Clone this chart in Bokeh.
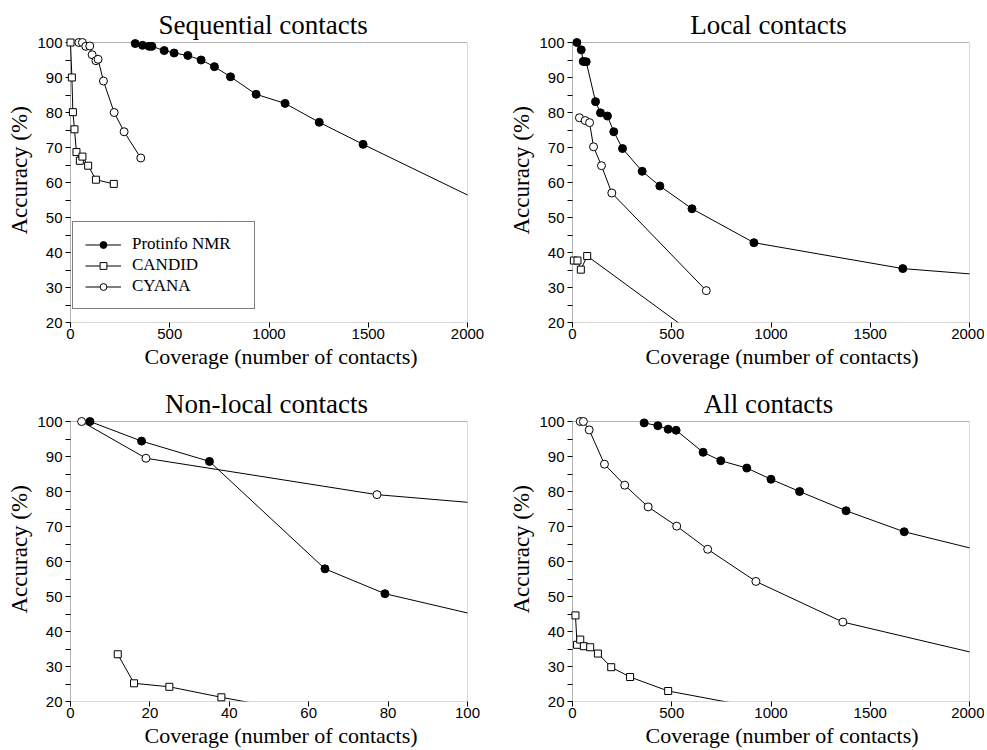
import numpy as np
from bokeh.plotting import figure
from bokeh.models import Range1d, FixedTicker, BoxAnnotation, Legend, LegendItem, Title
from bokeh.layouts import column, row
from bokeh.embed import file_html
from bokeh.resources import INLINE

# ---------------- data ----------------
# Sequential contacts
seq_prot_x = [326, 363, 396, 410, 472, 522, 591, 658, 725, 806, 935, 1081, 1253, 1474, 2150]
seq_prot_y = [99.7, 99.2, 98.9, 98.9, 97.7, 97.0, 96.3, 95.0, 93.1, 90.2, 85.2, 82.6, 77.2, 70.9, 52.3]
seq_cand_x = [0, 7, 12, 20, 30, 47, 60, 89, 128, 218]
seq_cand_y = [100, 90, 80.1, 75.2, 68.7, 66.2, 67.4, 64.8, 60.8, 59.6]
seq_cyan_x = [42, 60, 77, 97, 109, 128, 139, 166, 220, 270, 354]
seq_cyan_y = [100, 100, 98.9, 99.0, 96.5, 94.8, 95.2, 89.0, 80.0, 74.5, 67.0]

# Local contacts
loc_prot_x = [22, 44, 54, 69, 116, 141, 176, 208, 252, 351, 440, 602, 914, 1664, 2200]
loc_prot_y = [100, 97.9, 94.6, 94.5, 83.1, 79.9, 79.0, 74.5, 69.7, 63.2, 59.0, 52.5, 42.8, 35.4, 33.0]
loc_cand_x = [7, 25, 42, 74, 700]
loc_cand_y = [37.7, 37.7, 35.1, 39.0, 13.0]
loc_cyan_x = [35, 64, 86, 106, 146, 198, 674]
loc_cyan_y = [78.5, 77.7, 77.1, 70.2, 64.8, 57.0, 29.1]

# Non-local contacts
nl_prot_x = [4.9, 17.9, 35.0, 64.1, 79.2, 120]
nl_prot_y = [100, 94.4, 88.6, 57.9, 50.8, 40.0]
nl_cand_x = [11.9, 16.0, 24.9, 38.0, 60]
nl_cand_y = [33.5, 25.2, 24.2, 21.2, 16.6]
nl_cyan_x = [2.8, 19.0, 77.2, 120]
nl_cyan_y = [100, 89.5, 79.1, 75.0]

# All contacts
all_prot_x = [361, 430, 482, 522, 658, 747, 878, 1000, 1144, 1378, 1671, 2200]
all_prot_y = [99.6, 98.8, 97.8, 97.5, 91.2, 88.8, 86.7, 83.5, 80.0, 74.5, 68.5, 61.1]
all_cand_x = [15, 23, 39, 57, 89, 128, 195, 290, 482, 1000]
all_cand_y = [44.6, 36.2, 37.7, 35.8, 35.5, 33.7, 29.8, 27.0, 23.0, 17.5]
all_cyan_x = [39, 55, 84, 161, 263, 381, 525, 681, 924, 1362, 2200]
all_cyan_y = [100, 100, 97.6, 87.8, 81.8, 75.6, 70.1, 63.5, 54.3, 42.7, 31.5]

y_ticks = [20, 30, 40, 50, 60, 70, 80, 90, 100]
y_minor = [25, 35, 45, 55, 65, 75, 85, 95]
cov_ticks = [0, 500, 1000, 1500, 2000]
nl_ticks = [0, 20, 40, 60, 80, 100]
series_names = ["Protinfo NMR", "CANDID", "CYANA"]
x_label = "Coverage (number of contacts)"
y_label = "Accuracy (%)"

# ---------------- styling ----------------
SERIF = "Liberation Serif"
SANS = "Liberation Sans"
BOX_W, BOX_H = 397, 280
PAD_L, PAD_T = 5, 3
FRAME_W, FRAME_H = BOX_W + PAD_L, BOX_H + PAD_T


def make_panel(title, xmax, xticks, data, b_left, b_right, b_top, b_bottom,
               title_align="center", title_offset=0, xlab_offset=79, legend=False):
    xpad = PAD_L * xmax / BOX_W
    ypad = PAD_T * 80.0 / BOX_H
    p = figure(width=b_left + FRAME_W + b_right, height=b_top + FRAME_H + b_bottom,
               x_range=Range1d(-xpad, xmax), y_range=Range1d(20, 100 + ypad),
               output_backend="svg", toolbar_location=None,
               min_border_left=b_left, min_border_right=b_right,
               min_border_top=b_top, min_border_bottom=b_bottom)
    p.background_fill_color = "white"
    p.border_fill_color = "white"
    p.outline_line_color = None
    p.xgrid.visible = False
    p.ygrid.visible = False

    p.title.text = title
    p.title.align = title_align
    p.title.text_font = SERIF
    p.title.text_font_size = "27px"
    p.title.text_font_style = "normal"
    p.title.text_color = "black"
    p.title.standoff = 0
    p.title.offset = title_offset

    box = BoxAnnotation(left=0, right=xmax, bottom=20, top=100, fill_color=None,
                        line_color="black", line_width=1, level="underlay")
    p.add_layout(box)

    ya = p.yaxis[0]
    ya.ticker = FixedTicker(ticks=y_ticks, minor_ticks=y_minor)
    ya.major_label_text_font = SANS
    ya.major_label_text_font_size = "15px"
    ya.major_label_text_color = "black"
    ya.major_label_standoff = 3
    ya.major_tick_out = 0
    ya.major_tick_in = PAD_L
    ya.minor_tick_out = 0
    ya.minor_tick_in = PAD_L
    ya.axis_line_color = None
    ya.major_tick_line_color = "black"
    ya.minor_tick_line_color = "black"

    xa = p.xaxis[0]
    xa.ticker = FixedTicker(ticks=xticks, minor_ticks=[])
    xa.major_label_text_font = SANS
    xa.major_label_text_font_size = "15px"
    xa.major_label_text_color = "black"
    xa.major_label_standoff = 1
    xa.major_tick_out = 5
    xa.major_tick_in = 0
    xa.minor_tick_out = 0
    xa.minor_tick_in = 0
    xa.axis_line_color = None
    xa.major_tick_line_color = "black"

    xt = Title(text=x_label, align="left", offset=xlab_offset, standoff=0,
               text_font=SERIF, text_font_size="22px", text_font_style="normal",
               text_color="black")
    p.add_layout(xt, "below")
    yt = Title(text=y_label, align="left", offset=88, standoff=6,
               text_font=SERIF, text_font_size="23px", text_font_style="normal",
               text_color="black")
    p.add_layout(yt, "left")

    styles = [("circle", "black", 8), ("square", "white", 7), ("circle", "white", 8)]
    items = []
    for (xs, ys), (mk, fc, sz), name in zip(data, styles, series_names):
        lr = p.line(xs, ys, line_color="black", line_width=1)
        sr = p.scatter(xs, ys, marker=mk, size=sz, fill_color=fc,
                       line_color="black", line_width=1, level="overlay")
        items.append(LegendItem(label=name, renderers=[lr, sr]))

    if legend:
        lg = Legend(items=items, location=(7, 13), margin=0, padding=12, spacing=1,
                    glyph_width=36, glyph_height=17, label_height=17, label_width=110,
                    label_standoff=11, label_text_font=SERIF, label_text_font_size="17px",
                    label_text_color="black", border_line_color="black",
                    border_line_width=1, background_fill_color="white",
                    background_fill_alpha=1.0)
        p.add_layout(lg)
    return p


p1 = make_panel("Sequential contacts", 2000, cov_ticks,
                [(seq_prot_x, seq_prot_y), (seq_cand_x, seq_cand_y), (seq_cyan_x, seq_cyan_y)],
                65, 35, 39, 64, title_align="left", title_offset=93, xlab_offset=79, legend=True)
p2 = make_panel("Local contacts", 2000, cov_ticks,
                [(loc_prot_x, loc_prot_y), (loc_cand_x, loc_cand_y), (loc_cyan_x, loc_cyan_y)],
                65, 15, 39, 64, xlab_offset=78)
p3 = make_panel("Non-local contacts", 100, nl_ticks,
                [(nl_prot_x, nl_prot_y), (nl_cand_x, nl_cand_y), (nl_cyan_x, nl_cyan_y)],
                65, 35, 32, 49, xlab_offset=79)
p4 = make_panel("All contacts", 2000, cov_ticks,
                [(all_prot_x, all_prot_y), (all_cand_x, all_cand_y), (all_cyan_x, all_cyan_y)],
                65, 15, 32, 49, xlab_offset=78)

layout = column(row(p1, p2), row(p3, p4))
open("out.html", "w").write(file_html(layout, INLINE, title="Contacts accuracy"))
